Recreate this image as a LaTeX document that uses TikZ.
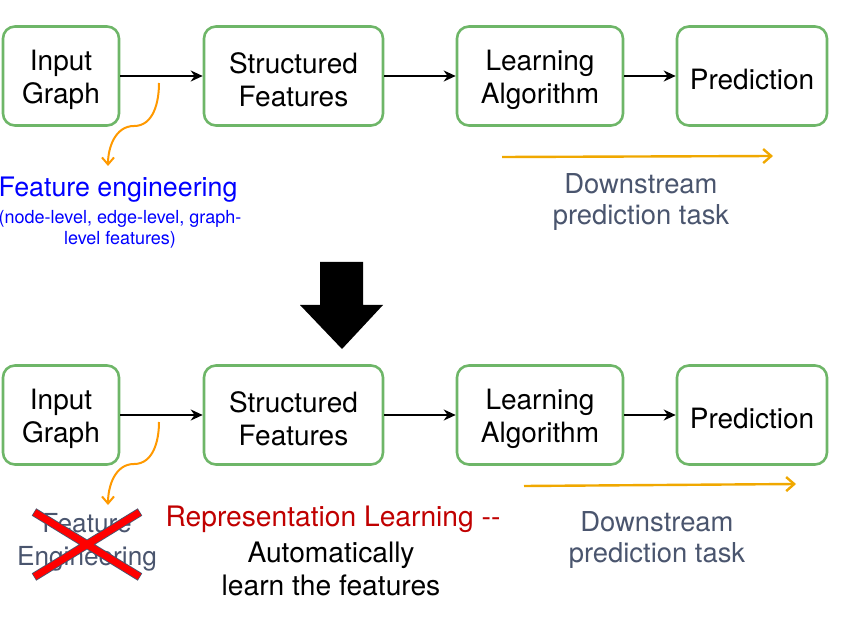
\documentclass[tikz,border=0pt]{standalone}
\usepackage{fontspec}
\setmainfont{TeX Gyre Heros}
\usetikzlibrary{arrows.meta}
\definecolor{boxgreen}{RGB}{110,182,104}
\definecolor{hintorange}{RGB}{255,153,0}
\definecolor{taskamber}{RGB}{240,168,0}
\definecolor{taskgray}{RGB}{74,85,110}
\definecolor{replred}{RGB}{192,0,0}
\newcommand{\up}{\rule{0pt}{14pt}}
\tikzset{box/.style={draw=boxgreen,line width=1.3pt,rounded corners=6pt,minimum height=49.5pt,align=center,inner sep=0pt,font=\fontsize{14}{16.5}\selectfont},
  txt/.style={align=center,inner sep=0pt},
  flow/.style={-{Stealth[length=6pt,width=5.5pt]},line width=1.2pt},
  hint/.style={draw=hintorange,line width=1pt,-{Straight Barb[length=3.5pt,width=6pt]}},
  task/.style={draw=taskamber,line width=1.2pt,-{Straight Barb[length=4pt,width=7pt]}}}

\begin{document}
\begin{tikzpicture}[x=0.5pt,y=-0.5pt]
      \useasboundingbox (0,0) rectangle (858,642);
      % before
      \node[box,minimum width=58pt] (IG) at (61,76) {\up Input\\Graph};
      \node[box,minimum width=89.5pt] (SF) at (293.5,76) {\up Structured\\Features};
      \node[box,minimum width=83pt] (LA) at (540,76) {\up Learning\\Algorithm};
      \node[box,minimum width=75pt] (P) at (752,76) {\up Prediction};

      \draw[flow] (IG) -- (SF);
      \draw[flow] (SF) -- (LA);
      \draw[flow] (LA) -- (P);

      \coordinate (h1) at (159,83);
      \coordinate (h2) at (108,166);
      \draw[hint] (h1) to[out=-90,in=0] (134,126) to[out=180,in=90] (h2);
      \node[txt,text=blue,font=\fontsize{13.4}{15}\selectfont] (FE) at (118,190) {Feature engineering};
      \node[txt,text=blue,font=\fontsize{9}{10.5}\selectfont] (FL) at (120,229) {(node-level, edge-level, graph-\\level features)};

      \coordinate (t1) at (502,157);
      \coordinate (t2) at (773,156);
      \draw[task] (t1) -- (t2);
      \node[txt,text=taskgray,font=\fontsize{13.7}{15.8}\selectfont] (DT) at (641,202) {Downstream\\prediction task};

      % big arrow
      \fill (320,262) -- (363,262) -- (363,305) -- (383,305) -- (342,349) -- (300,305) -- (320,305) -- cycle;

      % after
      \node[box,minimum width=58pt] (IG2) at (61,415) {\up Input\\Graph};
      \node[box,minimum width=89.5pt] (SF2) at (293.5,415) {\up Structured\\Features};
      \node[box,minimum width=83pt] (LA2) at (540,415) {\up Learning\\Algorithm};
      \node[box,minimum width=75pt] (P2) at (752,415) {\up Prediction};

      \draw[flow] (IG2) -- (SF2);
      \draw[flow] (SF2) -- (LA2);
      \draw[flow] (LA2) -- (P2);

      \coordinate (h3) at (159,422);
      \coordinate (h4) at (108,505);
      \draw[hint] (h3) to[out=-90,in=0] (134,464) to[out=180,in=90] (h4);
      \node[txt,text=taskgray,font=\fontsize{13.1}{16.5}\selectfont] (FX) at (87,542) {Feature\\Engineering};
      \draw[draw=taskgray,line width=4.3pt] (34,512) -- (140,577) (140,512) -- (34,577);
      \draw[draw=red,line width=3.4pt] (34.6,512.4) -- (139.4,576.6) (139.4,512.4) -- (34.6,576.6);

      \node[txt,text=replred,font=\fontsize{14.1}{16}\selectfont] (RL) at (333,519) {Representation Learning -{}-};
      \node[txt,font=\fontsize{14.1}{16.5}\selectfont] (AL) at (331,569) {Automatically\\learn the features};

      \coordinate (t3) at (524,486);
      \coordinate (t4) at (796,484);
      \draw[task] (t3) -- (t4);
      \node[txt,text=taskgray,font=\fontsize{13.7}{15.8}\selectfont] (DT2) at (657,540) {Downstream\\prediction task};
    \end{tikzpicture}
\end{document}
